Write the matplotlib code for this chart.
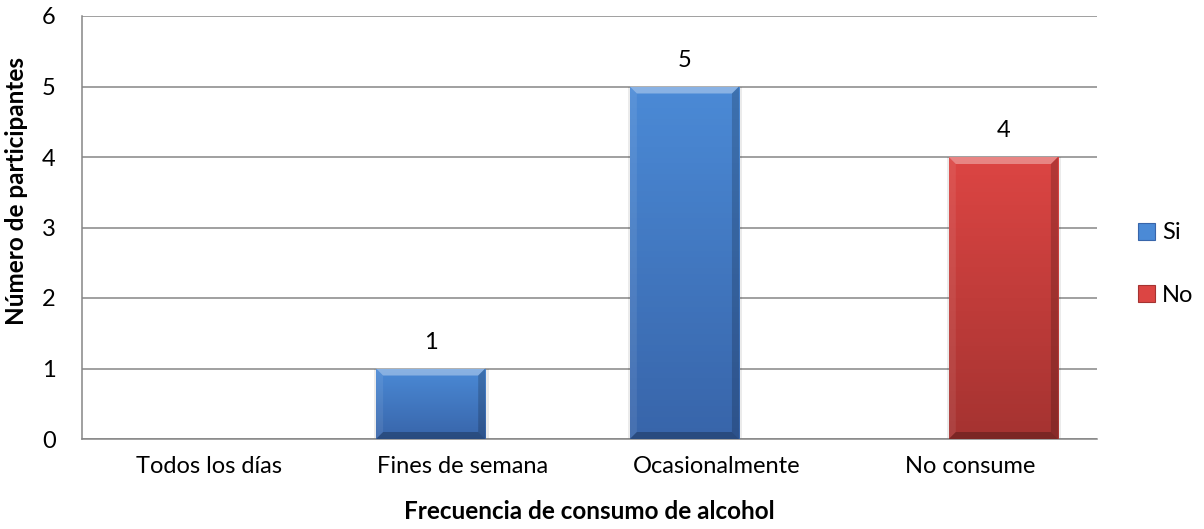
import matplotlib.pyplot as plt
import matplotlib.colors as mcolors
from matplotlib.patches import Polygon, Patch
import numpy as np

# datos de la encuesta
categorias = ['Todos los días', 'Fines de semana', 'Ocasionalmente', 'No consume']
si = [np.nan, 1, 5, np.nan]
no = [np.nan, np.nan, np.nan, 4]
series = ['Si', 'No']

plt.rcParams['font.family'] = ['Lato', 'DejaVu Sans']
FS = 17

W, H = 1204, 529
fig = plt.figure(figsize=(W / 100, H / 100), dpi=100)
ax = fig.add_axes([82 / W, 1 - 439 / H, (1097 - 82) / W, (439 - 16) / H])

XMIN, XMAX, YMIN, YMAX = -0.5, 3.5, 0, 6
ax.set_xlim(XMIN, XMAX)
ax.set_ylim(YMIN, YMAX)

# tamaño del bisel en unidades de datos (~7 px)
bx = 7 * (XMAX - XMIN) / 1015
by = 7 * (YMAX - YMIN) / 423


def barra_bisel(rect, arriba, abajo):
    x0, w, h = rect.get_x(), rect.get_width(), rect.get_height()
    if not np.isfinite(h) or h == 0:
        return
    cmap = mcolors.LinearSegmentedColormap.from_list('g', [abajo, arriba])
    grad = np.linspace(0, 1, 64).reshape(-1, 1)
    im = ax.imshow(grad, cmap=cmap, extent=(x0, x0 + w, 0, h), origin='lower',
                   aspect='auto', zorder=3)
    im.set_clip_path(rect)
    rect.set_facecolor('none')
    # sombra suave
    ax.add_patch(plt.Rectangle((x0 - bx * 0.3, -by * 0.2), w + bx * 0.8, h + by * 0.2,
                               color='#000000', alpha=0.08, lw=0, zorder=2.5))
    caras = [
        ([(x0, h), (x0 + w, h), (x0 + w - bx, h - by), (x0 + bx, h - by)], 'white', 0.35),
        ([(x0, 0), (x0, h), (x0 + bx, h - by), (x0 + bx, by)], 'white', 0.08),
        ([(x0 + w, 0), (x0 + w, h), (x0 + w - bx, h - by), (x0 + w - bx, by)], 'black', 0.18),
        ([(x0, 0), (x0 + w, 0), (x0 + w - bx, by), (x0 + bx, by)], 'black', 0.25),
    ]
    for pts, c, a in caras:
        ax.add_patch(Polygon(pts, closed=True, facecolor=c, alpha=a, lw=0, zorder=4))


x = np.arange(len(categorias))
ancho = 0.43
colores = {'Si': ('#4B8AD6', '#3865AA'), 'No': ('#DC4543', '#A53331')}
desplaz = {'Si': -0.126, 'No': 0.131}

for nombre, valores in zip(series, [si, no]):
    barras = ax.bar(x + desplaz[nombre], np.nan_to_num(valores), ancho,
                    color=colores[nombre][0], lw=0, zorder=3)
    for rect, v in zip(barras, valores):
        if np.isfinite(v):
            barra_bisel(rect, *colores[nombre])
            ax.annotate(f'{v:g}', (rect.get_x() + rect.get_width() / 2, v),
                        xytext=(0, 19), textcoords='offset points',
                        ha='center', va='center', fontsize=FS, color='black')

ax.set_xticks(x)
ax.set_xticklabels(categorias, fontsize=FS)
ax.set_yticks(range(0, 7))
ax.tick_params(axis='both', length=0, labelsize=FS)
ax.tick_params(axis='y', pad=19)
ax.tick_params(axis='x', pad=12)

ax.grid(axis='y', color='#868686', lw=1.1, zorder=1)
ax.set_axisbelow(True)
for s in ['top', 'right']:
    ax.spines[s].set_visible(False)
for s in ['left', 'bottom']:
    ax.spines[s].set_color('#868686')
    ax.spines[s].set_linewidth(1.1)

ax.set_xlabel('Frecuencia de consumo de alcohol', fontsize=FS + 0.5, fontweight='bold')
ax.set_ylabel('Número de participantes', fontsize=FS + 0.5, fontweight='bold')
ax.xaxis.set_label_coords(0.5, -0.145)
ax.yaxis.set_label_coords(-0.053, 0.586)

handles = [Patch(facecolor=colores[n][0], edgecolor=colores[n][1], lw=0.8) for n in series]
fig.legend(handles, series, loc='center left', bbox_to_anchor=(1138 / W, 1 - 264 / H),
           frameon=False, fontsize=FS, handlelength=0.72, handleheight=0.72,
           handletextpad=0.3, labelspacing=1.75, borderpad=0, borderaxespad=0)

fig.savefig('out.png', dpi=100)
